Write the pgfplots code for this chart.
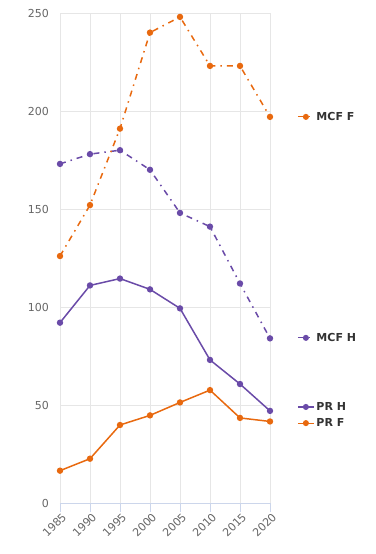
\documentclass[border=0pt]{standalone}
\usepackage{pgfplots}
\pgfplotsset{compat=1.18}
\usepackage{fontspec}
\setmainfont{DejaVu Sans}

\definecolor{cOr}{HTML}{E8690F}
\definecolor{cPu}{HTML}{6A4BA8}
\definecolor{gridc}{HTML}{E6E6E6}
\definecolor{axisc}{HTML}{CCD6EB}
\definecolor{tickc}{HTML}{666666}
\definecolor{legc}{HTML}{333333}

\pgfplotsset{
  base/.style={
    at={(0,0)}, anchor=south west, scale only axis,
    width=210pt, height=490pt,
  },
  dashdot/.style={dash pattern=on 6pt off 5pt on 1.5pt off 5pt},
  ser/.style={#1, line width=1.5pt, mark=*, mark size=2.4pt, mark options={solid, fill=#1, draw=#1}},
  keystyle/.style={
    hide axis, xmin=0, xmax=1, ymin=0, ymax=1,
    legend style={draw=none, fill=none, inner sep=0pt, anchor=west,
      font=\bfseries\fontsize{11}{13}\selectfont, text=legc,
      /tikz/every even column/.append style={column sep=4pt}},
    legend image code/.code={
      \draw[mark repeat=2, mark phase=2, ##1]
        plot coordinates {(0pt,0pt) (8pt,0pt) (16pt,0pt)};},
  },
}

\begin{document}
\begin{tikzpicture}[x=1pt,y=1pt]
\path[use as bounding box] (-60,-51) rectangle (315,503);

\begin{axis}[
  base,
  xmin=1985, xmax=2020, ymin=0, ymax=250,
  xtick={1985,1990,...,2020}, ytick={0,50,...,250},
  axis x line=bottom, axis y line=left,
  axis line style={-},
  x axis line style={axisc, line width=0.8pt},
  y axis line style={draw=none},
  xmajorgrids, ymajorgrids,
  grid style={gridc, line width=0.8pt},
  tick align=outside,
  xtick style={axisc, line width=0.8pt},
  major tick length=9pt,
  ytick style={draw=none},
  /pgf/number format/assume math mode=true,
  /pgf/number format/1000 sep={},
  ticklabel style={font=\fontsize{11}{13}\selectfont, text=tickc},
  xticklabel style={rotate=45, anchor=north east, inner sep=1pt, xshift=2pt},
  yticklabel style={inner sep=2pt},
  clip=false,
]
% Men, dash-dot
\addplot[ser=cPu, dashdot] coordinates {
  (1985,173) (1990,178) (1995,180) (2000,170) (2005,148) (2010,141) (2015,112) (2020,84)};
% Women, dash-dot
\addplot[ser=cOr, dashdot] coordinates {
  (1985,126) (1990,152) (1995,191) (2000,240) (2005,248) (2010,223) (2015,223) (2020,197)};
% Men, solid
\addplot[ser=cPu] coordinates {
  (1985,92) (1990,111) (1995,114.5) (2000,109) (2005,99.3) (2010,73) (2015,60.7) (2020,47)};
% Women, solid
\addplot[ser=cOr] coordinates {
  (1985,16.5) (1990,22.6) (1995,39.8) (2000,44.7) (2005,51.3) (2010,57.6) (2015,43.4) (2020,41.6)};
\end{axis}

% series keys beside the line ends
\begin{axis}[base, keystyle, legend style={at={(axis description cs:1.129,0.788)}}]
\addlegendimage{ser=cOr, line width=1.2pt, dashdot}
\addlegendentry{MCF F}
\end{axis}
\begin{axis}[base, keystyle, legend style={at={(axis description cs:1.129,0.337)}}]
\addlegendimage{ser=cPu, line width=1.2pt, dashdot}
\addlegendentry{MCF H}
\end{axis}
\begin{axis}[base, keystyle, legend style={at={(axis description cs:1.129,0.196)}}]
\addlegendimage{ser=cPu, line width=1.2pt}
\addlegendentry{PR H}
\end{axis}
\begin{axis}[base, keystyle, legend style={at={(axis description cs:1.129,0.163)}}]
\addlegendimage{ser=cOr, line width=1.2pt}
\addlegendentry{PR F}
\end{axis}
\end{tikzpicture}
\end{document}
